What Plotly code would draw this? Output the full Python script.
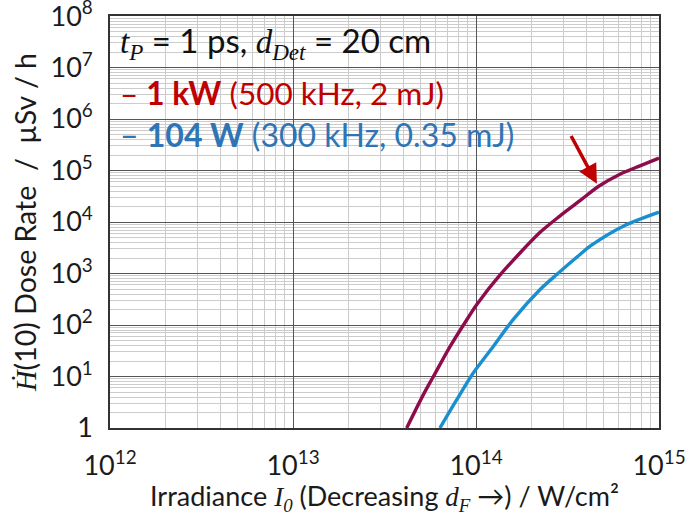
import math
import plotly.graph_objects as go

# ---- data ----
red_irr = [4.18e13, 5.15e13, 5.85e13, 7.21e13, 8.89e13, 1.01e14, 1.35e14, 2.24e14,
           2.88e14, 3.70e14, 4.66e14, 6.12e14, 7.87e14, 1.0e15]
red_dose = [1, 4.4, 10, 38, 125, 250, 930, 6.3e3,
            1.32e4, 2.6e4, 4.9e4, 8.5e4, 1.23e5, 1.74e5]

blue_irr = [6.35e13, 7.85e13, 9.66e13, 1.24e14, 1.60e14, 2.24e14, 2.76e14, 3.70e14,
            4.20e14, 6.38e14, 1.0e15]
blue_dose = [1, 3.55, 11.7, 38, 129, 490, 955, 2.34e3, 3.39e3, 8.3e3, 1.55e4]

x_tickvals = [1e12, 1e13, 1e14, 1e15]
x_ticktext = ["10<sup>12</sup>", "10<sup>13</sup>", "10<sup>14</sup>", "10<sup>15</sup>"]
y_tickvals = [1, 1e1, 1e2, 1e3, 1e4, 1e5, 1e6, 1e7, 1e8]
y_ticktext = ["1"] + ["10<sup>%d</sup>" % k for k in range(1, 9)]

arrow_point = (4.66e14, 4.9e4)

FONT = "Lato"
SERIF = "Liberation Serif"
RED_LINE = "#8E0B4C"
BLUE_LINE = "#1890D0"
RED_TXT = "#C00000"
BLUE_TXT = "#2E75B6"

def minor_vals(lo, hi):
    out = []
    for e in range(lo, hi):
        for m in range(2, 10):
            out.append(m * 10 ** e)
    return out

fig = go.Figure()
fig.add_trace(go.Scatter(x=red_irr, y=red_dose, mode="lines",
                         line=dict(color=RED_LINE, width=3.4, shape="spline", smoothing=0.8),
                         showlegend=False))
fig.add_trace(go.Scatter(x=blue_irr, y=blue_dose, mode="lines",
                         line=dict(color=BLUE_LINE, width=3.4, shape="spline", smoothing=0.8),
                         showlegend=False))

fig.update_xaxes(type="log", range=[12, 15], automargin=False,
                 tickvals=x_tickvals, ticktext=x_ticktext,
                 showgrid=True, gridcolor="#555555", gridwidth=1.3,
                 showline=True, linecolor="#333333", linewidth=1.6, mirror=True,
                 ticks="", ticklabelstandoff=13, ticklabeloverflow="allow",
                 tickfont=dict(family=FONT, size=27, color="#1a1a1a"),
                 minor=dict(tickvals=minor_vals(12, 15), showgrid=True,
                            gridcolor="#cccccc", gridwidth=1.3),
                 zeroline=False,
                 title=dict(text="Irradiance <span style='font-family:%s'><i>I<sub>0</sub></i></span> (Decreasing <span style='font-family:%s'><i>d<sub>F</sub></i></span> →) / W/cm²" % (SERIF, SERIF),
                            font=dict(family=FONT, size=27, color="#1a1a1a"),
                            standoff=4))
fig.update_yaxes(type="log", range=[0, 8.001], automargin=False,
                 tickvals=y_tickvals, ticktext=y_ticktext,
                 showgrid=True, gridcolor="#555555", gridwidth=1.3,
                 showline=True, linecolor="#333333", linewidth=1.6, mirror=True,
                 ticks="", ticklabelstandoff=10, ticklabeloverflow="allow",
                 tickfont=dict(family=FONT, size=27, color="#1a1a1a"),
                 minor=dict(tickvals=minor_vals(0, 8), showgrid=True,
                            gridcolor="#cccccc", gridwidth=1.3),
                 zeroline=False,
                 title=dict(text="<span style='font-family:%s'><i>Ḣ</i></span>(10) Dose Rate  /  µSv / h" % SERIF,
                            font=dict(family=FONT, size=28.5, color="#1a1a1a"),
                            standoff=6))

# white boxes behind the text lines
L, R, T, B = 110, 659, 16, 428
W, H = R - L, B - T
def px_box(x0, x1, y0, y1):
    return dict(type="rect", xref="paper", yref="paper",
                x0=(x0 - L) / W, x1=(x1 - L) / W,
                y0=(B - y1) / H, y1=(B - y0) / H,
                fillcolor="white", line=dict(width=0), layer="between")
shapes = [px_box(120, 430, 23, 65), px_box(120, 455, 70, 115), px_box(120, 515, 115, 162)]

def px_y(y):
    return (B - y) / H
def px_x(x):
    return (x - L) / W

anns = [
    dict(xref="paper", yref="paper", x=px_x(118), y=px_y(43), xanchor="left", yanchor="middle",
         showarrow=False,
         text="<span style='font-family:%s'><i>t<sub>P</sub></i></span> = 1 ps, <span style='font-family:%s'><i>d<sub>Det</sub></i></span> = 20 cm" % (SERIF, SERIF),
         font=dict(family=FONT, size=33, color="#111111")),
    dict(xref="paper", yref="paper", x=px_x(118), y=px_y(93), xanchor="left", yanchor="middle",
         showarrow=False,
         text="– <b>1 kW</b> (500 kHz, 2 mJ)",
         font=dict(family=FONT, size=31.5, color=RED_TXT)),
    dict(xref="paper", yref="paper", x=px_x(118), y=px_y(134), xanchor="left", yanchor="middle",
         showarrow=False,
         text="– <b>104 W</b> (300 kHz, 0.35 mJ)",
         font=dict(family=FONT, size=32, color=BLUE_TXT)),
]
anns.append(dict(x=math.log10(arrow_point[0]), y=math.log10(arrow_point[1]), xref="x", yref="y",
                 showarrow=True, arrowhead=2, arrowsize=1.1, arrowwidth=3.5,
                 arrowcolor=RED_TXT, ax=-28, ay=-52, text="", standoff=3))

fig.update_layout(width=685, height=516,
                  margin=dict(l=L, r=685 - R, t=T, b=516 - B),
                  paper_bgcolor="white", plot_bgcolor="white",
                  shapes=shapes, annotations=anns,
                  font=dict(family=FONT))
fig.write_html("out.html", config={"displayModeBar": False},
               post_script="document.body.style.margin='0px';document.body.style.overflow='hidden';")
